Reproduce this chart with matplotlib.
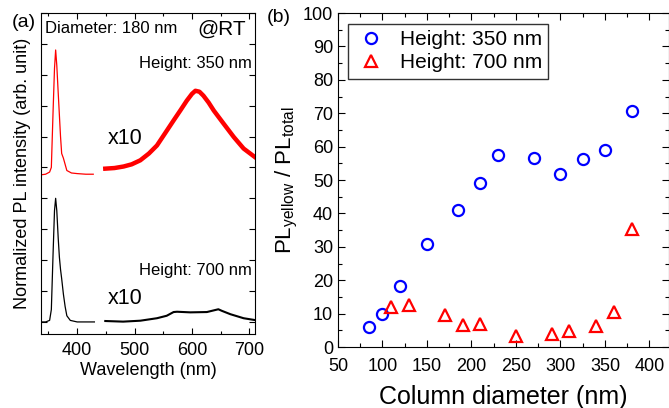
import numpy as np
import matplotlib
matplotlib.use('Agg')
import matplotlib.pyplot as plt
from matplotlib.ticker import MultipleLocator, NullFormatter

plt.rcParams['font.family'] = ['Liberation Sans', 'DejaVu Sans']
plt.rcParams['mathtext.default'] = 'regular'

# (a) PL spectra, diameter 180 nm (intensity in arb. units, offset stacked)
uv_wl_350 = [337, 345, 352, 355, 358, 360.5, 362.5, 364.5, 367, 369, 371, 373, 376, 379, 382, 390, 400, 415, 428]
uv_int_350 = [4.76, 4.78, 4.85, 5.0, 6.8, 8.2, 8.8, 8.3, 7.4, 6.7, 6.0, 5.45, 5.3, 5.1, 4.9, 4.82, 4.8, 4.78, 4.78]
vis_wl_350 = [449, 465, 481, 495, 510, 525, 539, 553, 568, 580, 591, 600, 606, 613, 620, 629, 638, 655, 673, 690, 710]
vis_int_350 = [4.96, 4.98, 5.03, 5.1, 5.23, 5.45, 5.71, 6.1, 6.52, 6.85, 7.16, 7.38, 7.48, 7.45, 7.32, 7.1, 6.84, 6.42, 5.98, 5.61, 5.33]

uv_wl_700 = [337, 345, 352, 355, 358, 360.5, 362.5, 364.5, 367, 369, 371, 373, 376, 379, 382, 388, 400, 415, 430]
uv_int_700 = [0.0, 0.0, 0.05, 0.4, 2.2, 3.6, 4.0, 3.6, 2.7, 2.1, 1.7, 1.4, 0.9, 0.5, 0.2, 0.05, 0.0, 0.0, 0.0]
vis_wl_700 = [449, 480, 510, 539, 556, 568, 574, 597, 626, 646, 652, 667, 690, 710]
vis_int_700 = [0.03, 0.01, 0.04, 0.12, 0.2, 0.32, 0.33, 0.31, 0.32, 0.41, 0.36, 0.25, 0.12, 0.06]

# (b) PL_yellow / PL_total vs column diameter
d_350 = [85, 100, 120, 150, 185, 210, 230, 270, 300, 325, 350, 380]
r_350 = [6.0, 9.8, 18.4, 30.8, 41.0, 49.2, 57.4, 56.6, 51.7, 56.4, 59.1, 70.8]
d_700 = [110, 130, 170, 190, 210, 250, 290, 310, 340, 360, 380]
r_700 = [12.0, 12.7, 9.7, 6.7, 6.8, 3.3, 4.0, 4.7, 6.2, 10.6, 35.3]

fig = plt.figure(figsize=(6.69, 4.08), dpi=100)
ax1 = fig.add_axes([0.0613, 0.1814, 0.320, 0.787])
ax2 = fig.add_axes([0.5052, 0.1495, 0.4948, 0.8186])

# Panel (a)
ax1.plot(uv_wl_350, uv_int_350, color='red', linewidth=0.9)
ax1.plot(vis_wl_350, vis_int_350, color='red', linewidth=3.2)
ax1.plot(uv_wl_700, uv_int_700, color='black', linewidth=0.9)
ax1.plot(vis_wl_700, vis_int_700, color='black', linewidth=1.5)
ax1.set_xlim(337, 710)
ax1.set_ylim(-0.39, 10)
ax1.xaxis.set_major_locator(MultipleLocator(100))
ax1.xaxis.set_minor_locator(MultipleLocator(50))
ax1.yaxis.set_major_locator(MultipleLocator(1))
ax1.yaxis.set_major_formatter(NullFormatter())
ax1.tick_params(which='both', direction='in', top=True, right=True, labelsize=13, width=0.8)
ax1.tick_params(which='major', length=4)
ax1.tick_params(which='minor', length=2.5)
ax1.tick_params(axis='x', pad=6)
ax1.set_xlabel('Wavelength (nm)', fontsize=13, labelpad=2)
ax1.set_ylabel('Normalized PL intensity (arb. unit)', fontsize=13, labelpad=4)

ax1.text(344, 9.48, 'Diameter: 180 nm', fontsize=12, va='center', ha='left')
ax1.text(694, 9.48, '@RT', fontsize=15, va='center', ha='right')
ax1.text(705, 8.35, 'Height: 350 nm', fontsize=12, va='center', ha='right')
ax1.text(454, 5.94, 'x10', fontsize=15.5, va='center', ha='left')
ax1.text(705, 1.68, 'Height: 700 nm', fontsize=12, va='center', ha='right')
ax1.text(454, 0.77, 'x10', fontsize=15.5, va='center', ha='left')

# Panel (b)
ax2.plot(d_350, r_350, linestyle='none', marker='o', markersize=8, markerfacecolor='none',
         markeredgecolor='blue', markeredgewidth=1.6, label='Height: 350 nm')
ax2.plot(d_700, r_700, linestyle='none', marker='^', markersize=9, markerfacecolor='none',
         markeredgecolor='red', markeredgewidth=1.6, label='Height: 700 nm')
ax2.set_xlim(50, 422)
ax2.set_ylim(0, 100)
ax2.xaxis.set_major_locator(MultipleLocator(50))
ax2.xaxis.set_minor_locator(MultipleLocator(25))
ax2.yaxis.set_major_locator(MultipleLocator(10))
ax2.yaxis.set_minor_locator(MultipleLocator(5))
ax2.tick_params(which='both', direction='in', top=True, right=True, labelsize=13, width=0.8)
ax2.tick_params(which='major', length=5)
ax2.tick_params(which='minor', length=3)
ax2.tick_params(axis='x', pad=8)
ax2.set_xlabel('Column diameter (nm)', fontsize=18, labelpad=7)
ax2.set_ylabel(r'PL$_{yellow}$ / PL$_{total}$', fontsize=16, labelpad=2)

leg = ax2.legend(loc='upper left', bbox_to_anchor=(0.03, 0.967), borderaxespad=0,
                 fontsize=15, fancybox=False, framealpha=1, edgecolor='#333333',
                 handletextpad=0.6, borderpad=0.3, labelspacing=0.2, handlelength=1.6)
leg.get_frame().set_linewidth(1.0)

fig.text(0.036, 0.946, '(a)', fontsize=14, ha='center', va='center')
fig.text(0.417, 0.958, '(b)', fontsize=14, ha='center', va='center')

plt.savefig('out.png', dpi=100)
